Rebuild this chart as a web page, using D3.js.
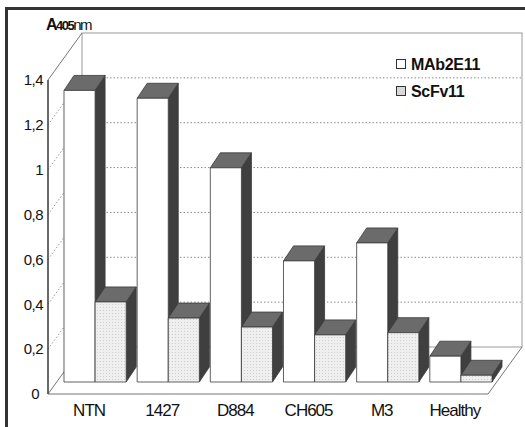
<!DOCTYPE html>
<html>
<head>
<meta charset="utf-8">
<script src="https://cdn.jsdelivr.net/npm/d3@7/dist/d3.min.js"></script>
<style>
  html, body { margin: 0; padding: 0; background: #fff; }
  svg { display: block; font-family: "Liberation Sans", Arial, sans-serif; }
</style>
</head>
<body>
<svg id="chart" width="525" height="427"></svg>
<script>
// Absorbance at 405 nm per sample, two antibody formats
const categories = ["NTN", "1427", "D884", "CH605", "M3", "Healthy"];
const seriesNames = ["MAb2E11", "ScFv11"];
const mab2e11 = [1.30, 1.265, 0.955, 0.54, 0.62, 0.115];
const scfv11 = [0.357, 0.285, 0.245, 0.21, 0.22, 0.03];
const yTicks = [0, 0.2, 0.4, 0.6, 0.8, 1.0, 1.2, 1.4];
const yTickLabels = ["0", "0,2", "0,4", "0,6", "0,8", "1", "1,2", "1,4"];

const svg = d3.select("#chart");

// 3D box geometry: front plane, depth of the walls, depth of each bar
const wallDx = 34, wallDy = -47;       // front plane -> back wall
const barShiftX = 10, barShiftY = -12; // front plane -> front face of bars
const barDx = 10, barDy = -15;         // bar depth

const y = d3.scaleLinear().domain([0, 1.4]).range([394, 80]);
const x = d3.scaleBand().domain(categories).range([48, 488])
  .paddingInner(0.15).paddingOuter(0.082);
const xs = d3.scaleBand().domain(seriesNames).range([0, x.bandwidth()]);

const x0 = 48, x1 = 488;
const yb = v => y(v) + wallDy;

// stipple pattern for the second series
const defs = svg.append("defs");
const pat = defs.append("pattern").attr("id", "stipple")
  .attr("width", 3).attr("height", 3).attr("patternUnits", "userSpaceOnUse");
pat.append("rect").attr("width", 3).attr("height", 3).attr("fill", "#efefef");
pat.append("rect").attr("x", 1).attr("y", 1).attr("width", 1).attr("height", 1).attr("fill", "#cfcfcf");

// outer frame
svg.append("rect").attr("x", 6.5).attr("y", 8.5).attr("width", 540).attr("height", 440)
  .attr("fill", "none").attr("stroke", "#333").attr("stroke-width", 3);

const walls = svg.append("g");
// back wall
walls.append("rect")
  .attr("x", x0 + wallDx).attr("y", yb(1.4))
  .attr("width", x1 - x0).attr("height", yb(0) - yb(1.4))
  .attr("fill", "#fff").attr("stroke", "#9a9a9a").attr("stroke-width", 1);

// gridlines on back wall and side wall
const grid = yTicks.filter(v => v > 0 && v < 1.4);
walls.selectAll(".gb").data(grid).enter().append("line")
  .attr("x1", x0 + wallDx).attr("x2", x1 + wallDx)
  .attr("y1", d => yb(d)).attr("y2", d => yb(d))
  .attr("stroke", "#8a8a8a").attr("stroke-width", 1).attr("stroke-dasharray", "1.5,2");
walls.selectAll(".gs").data(grid).enter().append("line")
  .attr("x1", x0).attr("x2", x0 + wallDx)
  .attr("y1", d => y(d)).attr("y2", d => yb(d))
  .attr("stroke", "#9a9a9a").attr("stroke-width", 1).attr("stroke-dasharray", "1.5,2");

// side wall outline and floor
walls.append("path")
  .attr("d", `M${x0},${y(0)} L${x0},${y(1.4)} L${x0 + wallDx},${yb(1.4)}`)
  .attr("fill", "none").attr("stroke", "#777").attr("stroke-width", 1);
walls.append("path")
  .attr("d", `M${x0 + wallDx},${yb(0)} L${x0},${y(0)} L${x1},${y(0)} L${x1 + wallDx},${yb(0)}`)
  .attr("fill", "none").attr("stroke", "#777").attr("stroke-width", 1);
walls.append("line")
  .attr("x1", x0).attr("x2", x0).attr("y1", y(0)).attr("y2", y(1.4))
  .attr("stroke", "#333").attr("stroke-width", 1.2);

// bars drawn left to right so nearer faces overlap correctly
const bars = [];
categories.forEach((c, i) => {
  bars.push({ cat: c, s: seriesNames[0], v: mab2e11[i] });
  bars.push({ cat: c, s: seriesNames[1], v: scfv11[i] });
});

const barG = svg.append("g");
bars.forEach(b => {
  const bx = x(b.cat) + xs(b.s) + barShiftX;
  const bw = xs.bandwidth();
  const top = y(b.v) + barShiftY;
  const bot = y(0) + barShiftY;
  const g = barG.append("g").attr("stroke", "#3a3a3a").attr("stroke-width", 0.8)
    .attr("stroke-linejoin", "round");
  // side face
  g.append("path")
    .attr("d", `M${bx + bw},${bot} L${bx + bw},${top} L${bx + bw + barDx},${top + barDy} L${bx + bw + barDx},${bot + barDy} Z`)
    .attr("fill", "#3f3f3f");
  // top face
  g.append("path")
    .attr("d", `M${bx},${top} L${bx + barDx},${top + barDy} L${bx + bw + barDx},${top + barDy} L${bx + bw},${top} Z`)
    .attr("fill", "#6b6b6b");
  // front face
  g.append("rect")
    .attr("x", bx).attr("y", top).attr("width", bw).attr("height", bot - top)
    .attr("fill", b.s === seriesNames[0] ? "#ffffff" : "url(#stipple)");
});

// value axis labels
svg.append("g").selectAll("text").data(yTicks).enter().append("text")
  .attr("x", d => d === 0 ? 39 : 43).attr("y", d => y(d)).attr("dy", "0.35em")
  .attr("text-anchor", "end").attr("font-size", 15).attr("fill", "#111")
  .attr("letter-spacing", -0.5)
  .text((d, i) => yTickLabels[i]);

// category labels
svg.append("g").selectAll("text").data(categories).enter().append("text")
  .attr("x", d => x(d) + x.bandwidth() / 2 + 4).attr("y", 416)
  .attr("text-anchor", "middle").attr("font-size", 17).attr("fill", "#111")
  .attr("letter-spacing", -1)
  .text(d => d);

// axis title
const title = svg.append("text").attr("x", 46).attr("y", 30)
  .attr("font-size", 16).attr("font-weight", "bold").attr("fill", "#111")
  .attr("letter-spacing", -1.5);
title.append("tspan").text("A");
title.append("tspan").attr("font-size", 13).text("405");
title.append("tspan").attr("font-size", 15).attr("font-weight", "normal").text("nm");

// legend
const legend = svg.append("g");
seriesNames.forEach((s, i) => {
  const ly = 64 + i * 27;
  legend.append("rect").attr("x", 396.5).attr("y", ly - 4.5).attr("width", 9).attr("height", 9)
    .attr("fill", i === 0 ? "#fff" : "#d8d8d8").attr("stroke", "#333").attr("stroke-width", 1);
  legend.append("text").attr("x", 411).attr("y", ly).attr("dy", "0.36em")
    .attr("font-size", 16).attr("font-weight", "bold").attr("fill", "#111")
    .attr("letter-spacing", -0.3)
    .text(s);
});
</script>
</body>
</html>
